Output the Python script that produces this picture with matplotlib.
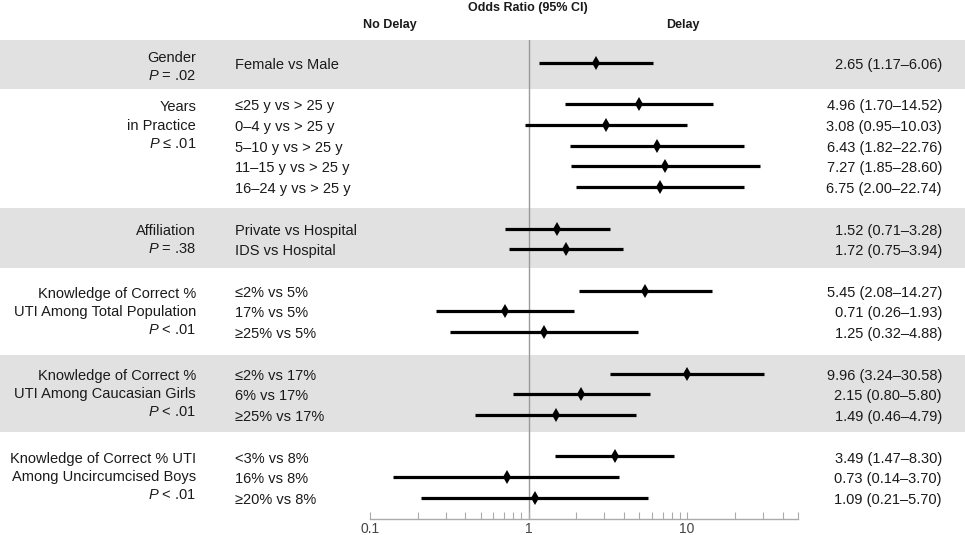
import matplotlib
matplotlib.use('Agg')
import matplotlib.pyplot as plt
import matplotlib.ticker as ticker
from matplotlib.patches import Rectangle
from matplotlib.transforms import blended_transform_factory

plt.rcParams['font.family'] = ['Liberation Sans', 'DejaVu Sans']
plt.rcParams['mathtext.fontset'] = 'custom'
plt.rcParams['mathtext.it'] = 'Liberation Sans:italic'
plt.rcParams['mathtext.rm'] = 'Liberation Sans'

# ---------------------------------------------------------------------------
# Data
# ---------------------------------------------------------------------------
group_names = [
    'Gender',
    'Years\nin Practice',
    'Affiliation',
    'Knowledge of Correct %\nUTI Among Total Population',
    'Knowledge of Correct %\nUTI Among Caucasian Girls',
    'Knowledge of Correct % UTI\nAmong Uncircumcised Boys',
]
group_pvals = [r'$P$ = .02', r'$P$ ≤ .01', r'$P$ = .38',
               r'$P$ < .01', r'$P$ < .01', r'$P$ < .01']

row_labels = [
    ['Female vs Male'],
    ['≤25 y vs > 25 y', '0–4 y vs > 25 y', '5–10 y vs > 25 y',
     '11–15 y vs > 25 y', '16–24 y vs > 25 y'],
    ['Private vs Hospital', 'IDS vs Hospital'],
    ['≤2% vs 5%', '17% vs 5%', '≥25% vs 5%'],
    ['≤2% vs 17%', '6% vs 17%', '≥25% vs 17%'],
    ['<3% vs 8%', '16% vs 8%', '≥20% vs 8%'],
]
odds = [
    [2.65],
    [4.96, 3.08, 6.43, 7.27, 6.75],
    [1.52, 1.72],
    [5.45, 0.71, 1.25],
    [9.96, 2.15, 1.49],
    [3.49, 0.73, 1.09],
]
ci_low = [
    [1.17],
    [1.70, 0.95, 1.82, 1.85, 2.00],
    [0.71, 0.75],
    [2.08, 0.26, 0.32],
    [3.24, 0.80, 0.46],
    [1.47, 0.14, 0.21],
]
ci_high = [
    [6.06],
    [14.52, 10.03, 22.76, 28.60, 22.74],
    [3.28, 3.94],
    [14.27, 1.93, 4.88],
    [30.58, 5.80, 4.79],
    [8.30, 3.70, 5.70],
]

W, H = 965, 535
BAND = '#e1e1e1'
TXT = '#1a1a1a'
FS = 10.5

fig = plt.figure(figsize=(W / 100, H / 100), dpi=100)
# axes: x 370..798 px (0.1..50), y 40..519 px
ax = fig.add_axes([370 / W, 1 - 519 / H, (798 - 370) / W, (519 - 40) / H])
ax.patch.set_visible(False)
ax.set_xscale('log')
ax.set_xlim(0.1, 50)

# row positions: one blank row between groups
rows = []
pos = 0
for labels in row_labels:
    rows.append(list(range(pos, pos + len(labels))))
    pos += len(labels) + 1

ax.set_ylim(22.02, -1.1)
bounds = [-1.1, 1.25, 7.0, 9.9, 14.1, 17.8, 22.02]
label_shift = [-0.22, 0.15, 0.1, 0.15, 0.1, 0.1]

fx = blended_transform_factory(fig.transFigure, ax.transData)
for i in range(len(group_names)):
    if i % 2 == 0:
        ax.add_patch(Rectangle((0, bounds[i]), 1, bounds[i + 1] - bounds[i],
                               transform=fx, color=BAND, clip_on=False, zorder=0, lw=0))

ax.axvline(1, color='#9a9a9a', lw=1, zorder=1)

for g, name in enumerate(group_names):
    lines = name.split('\n') + [group_pvals[g]]
    y0 = rows[g][0] + label_shift[g]
    for k, line in enumerate(lines):
        ax.text(196 / W, y0 + 0.88 * k, line, transform=fx,
                ha='right', va='center', fontsize=FS, color=TXT)
    for r, y in enumerate(rows[g]):
        ax.text(235 / W, y + 0.1, row_labels[g][r], transform=fx,
                ha='left', va='center', fontsize=FS, color=TXT)
        ax.plot([ci_low[g][r], ci_high[g][r]], [y, y], color='black',
                lw=2.3, solid_capstyle='butt', zorder=3)
        ax.plot(odds[g][r], y, marker='d', ms=7.5, mew=0, color='black', zorder=4)
        ax.text(942 / W, y + 0.1,
                f'{odds[g][r]:.2f} ({ci_low[g][r]:.2f}–{ci_high[g][r]:.2f})',
                transform=fx, ha='right', va='center', fontsize=FS, color=TXT)

# axis styling
for s in ('top', 'left', 'right'):
    ax.spines[s].set_visible(False)
ax.spines['bottom'].set_color('#aaaaaa')
ax.spines['bottom'].set_linewidth(1)
ax.set_yticks([])
ax.xaxis.set_major_locator(ticker.FixedLocator([0.1, 1, 10]))
ax.xaxis.set_major_formatter(ticker.FixedFormatter(['0.1', '1', '10']))
ax.xaxis.set_minor_locator(ticker.FixedLocator(
    [0.2, 0.3, 0.4, 0.5, 0.6, 0.7, 0.8, 0.9,
     2, 3, 4, 5, 6, 7, 8, 9, 20, 30, 40, 50]))
ax.xaxis.set_minor_formatter(ticker.NullFormatter())
ax.tick_params(axis='x', which='both', direction='in', color='#aaaaaa',
               length=5, width=0.8, labelsize=10, labelcolor='#444444', pad=2)

# header
fig.text(528 / W, 1 - 8 / H, 'Odds Ratio (95% CI)', ha='center', va='center',
         fontsize=9, fontweight='bold', color=TXT)
fig.text(390 / W, 1 - 25 / H, 'No Delay', ha='center', va='center',
         fontsize=9, fontweight='bold', color=TXT)
fig.text(683 / W, 1 - 25 / H, 'Delay', ha='center', va='center',
         fontsize=9, fontweight='bold', color=TXT)

fig.savefig('out.png', dpi=100)
